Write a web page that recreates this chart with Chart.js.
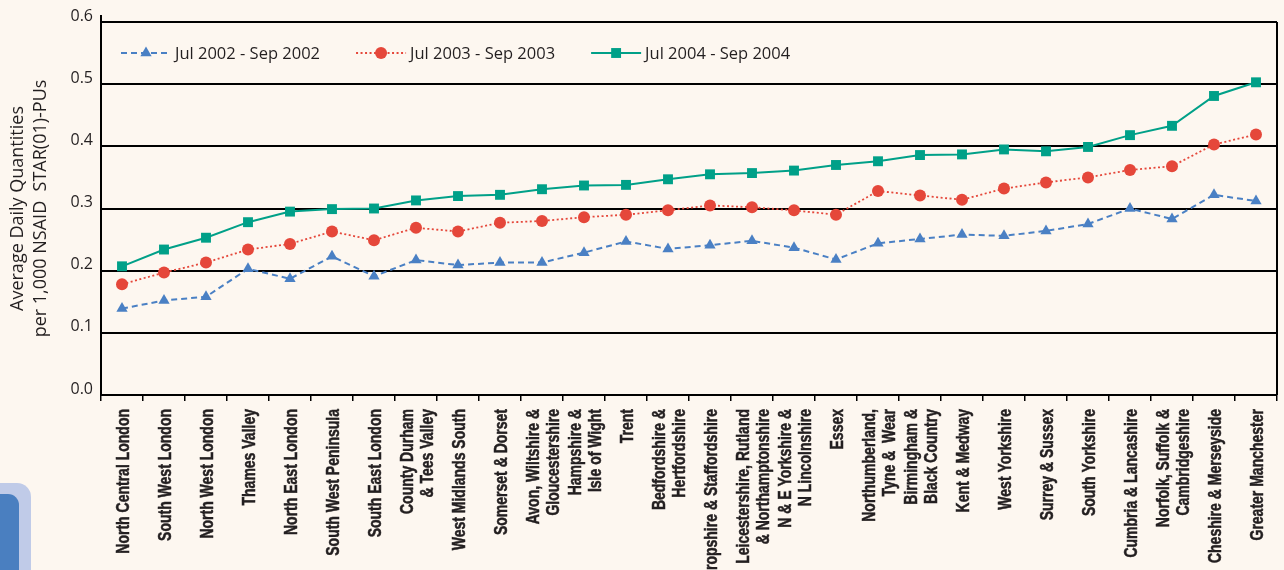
<!DOCTYPE html>
<html>
<head>
<meta charset="utf-8">
<script src="https://cdn.jsdelivr.net/npm/chart.js@4/dist/chart.umd.min.js"></script>
<style>
  body { margin: 0; background: #fdf7f0; }
  #wrap { position: relative; width: 1284px; height: 570px; overflow: hidden; }
  .tab { position: absolute; left: 0; top: 483px; width: 31px; height: 100px; background: #c0cbe8; border-top-right-radius: 14px; }
  .tab-in { position: absolute; left: 0; top: 494px; width: 19px; height: 90px; background: #4a7fc0; border-top-right-radius: 11px; }
</style>
</head>
<body>
<div id="wrap">
  <canvas id="chart" width="1284" height="570"></canvas>
  <div class="tab"></div>
  <div class="tab-in"></div>
</div>
<script>
const regions = [
  "North Central London", "South West London", "North West London", "Thames Valley",
  "North East London", "South West Peninsula", "South East London",
  ["County Durham", "& Tees Valley"], "West Midlands South", "Somerset & Dorset",
  ["Avon, Wiltshire &", "Gloucestershire"], ["Hampshire &", "Isle of Wight"], "Trent",
  ["Bedfordshire &", "Hertfordshire"], "Shropshire & Staffordshire",
  ["Leicestershire, Rutland", "& Northamptonshire"], ["N & E Yorkshire &", "N Lincolnshire"],
  "Essex", ["Northumberland,", "Tyne &  Wear"], ["Birmingham &", "Black Country"],
  "Kent & Medway", "West Yorkshire", "Surrey & Sussex", "South Yorkshire",
  "Cumbria & Lancashire", ["Norfolk, Suffolk &", "Cambridgeshire"],
  "Cheshire & Merseyside", "Greater Manchester"
];

const q2002 = [0.139, 0.152, 0.158, 0.203, 0.187, 0.223, 0.191, 0.217, 0.209, 0.213,
  0.213, 0.229, 0.247, 0.235, 0.241, 0.248, 0.237, 0.218, 0.244, 0.251,
  0.258, 0.256, 0.264, 0.275, 0.300, 0.283, 0.322, 0.312];
const q2003 = [0.178, 0.197, 0.213, 0.234, 0.243, 0.263, 0.249, 0.269, 0.263, 0.277,
  0.280, 0.286, 0.290, 0.297, 0.305, 0.302, 0.297, 0.290, 0.328, 0.321,
  0.314, 0.332, 0.342, 0.350, 0.362, 0.368, 0.403, 0.419];
const q2004 = [0.207, 0.234, 0.253, 0.278, 0.295, 0.299, 0.300, 0.313, 0.320, 0.322,
  0.331, 0.337, 0.338, 0.347, 0.355, 0.357, 0.361, 0.370, 0.376, 0.386,
  0.387, 0.395, 0.392, 0.399, 0.418, 0.433, 0.481, 0.503];

const yTicks = [0, 0.1, 0.2, 0.3, 0.4, 0.5, 0.6];

const textColor = "#231f20";
const bodyFont = '"Open Sans", "Noto Sans", sans-serif';

// legend drawn inside the plot, with line + marker like the original
const lineLegend = {
  id: "lineLegend",
  afterDraw(chart) {
    const ctx = chart.ctx;
    const area = chart.chartArea;
    const y = 53;
    let x = area.left + 20;
    ctx.save();
    // axis stubs: left axis pokes above the top gridline, right border line
    ctx.strokeStyle = "#000";
    ctx.lineWidth = 2;
    ctx.beginPath();
    ctx.moveTo(area.left, area.top - 7);
    ctx.lineTo(area.left, area.top);
    ctx.moveTo(area.right, area.top);
    ctx.lineTo(area.right, area.bottom);
    ctx.stroke();

    ctx.font = "16.5px " + bodyFont;
    ctx.textBaseline = "middle";
    chart.data.datasets.forEach(ds => {
      ctx.strokeStyle = ds.borderColor;
      ctx.lineWidth = ds.borderWidth;
      ctx.setLineDash(ds.borderDash || []);
      ctx.beginPath();
      ctx.moveTo(x, y);
      ctx.lineTo(x + 50, y);
      ctx.stroke();
      ctx.setLineDash([]);
      ctx.fillStyle = ds.pointBackgroundColor;
      Chart.helpers.drawPoint(ctx, {
        pointStyle: ds.pointStyle, radius: ds.pointRadius, borderWidth: 0, rotation: 0
      }, x + 25, y);
      ctx.fillStyle = textColor;
      ctx.fillText(ds.label, x + 54, y + 1);
      x += 54 + ctx.measureText(ds.label).width + 36;
    });
    ctx.restore();
  }
};

// category labels: vertical, condensed bold, multi-line ones centred on the tick
const xLabels = {
  id: "xLabels",
  afterDraw(chart) {
    const ctx = chart.ctx;
    const xs = chart.scales.x;
    ctx.save();
    ctx.font = 'bold 17.5px "Liberation Sans", Arial, sans-serif';
    ctx.fillStyle = textColor;
    ctx.strokeStyle = textColor;
    ctx.lineWidth = 0.5;
    ctx.textAlign = "right";
    ctx.textBaseline = "middle";
    chart.data.labels.forEach((lab, i) => {
      const lines = Array.isArray(lab) ? lab : [lab];
      const px = xs.getPixelForTick(i);
      lines.forEach((t, j) => {
        const cx = px + 2 + (j - (lines.length - 1) / 2) * 20;
        ctx.save();
        ctx.translate(cx, xs.top + 14);
        ctx.rotate(-Math.PI / 2);
        ctx.scale(0.8, 1);
        ctx.fillText(t, 0, 0);
        ctx.strokeText(t, 0, 0);
        ctx.restore();
      });
    });
    ctx.restore();
  }
};

new Chart(document.getElementById("chart"), {
  type: "line",
  data: {
    labels: regions,
    datasets: [
      {
        label: "Jul 2002 - Sep 2002",
        data: q2002,
        borderColor: "#4a80c4",
        borderWidth: 2,
        borderDash: [6, 4],
        pointStyle: "triangle",
        pointRadius: 6.5,
        pointBackgroundColor: "#4a80c4",
        pointBorderWidth: 0,
      },
      {
        label: "Jul 2003 - Sep 2003",
        data: q2003,
        borderColor: "#e5473a",
        borderWidth: 1.8,
        borderDash: [2, 2.5],
        pointStyle: "circle",
        pointRadius: 6,
        pointBackgroundColor: "#e5473a",
        pointBorderWidth: 0,
      },
      {
        label: "Jul 2004 - Sep 2004",
        data: q2004,
        borderColor: "#00a088",
        borderWidth: 2,
        pointStyle: "rect",
        pointRadius: 7,
        pointBackgroundColor: "#00a088",
        pointBorderWidth: 0,
      },
    ],
  },
  options: {
    responsive: false,
    animation: false,
    layout: { padding: { top: 22, right: 1, left: 0, bottom: 0 } },
    plugins: {
      legend: { display: false },
      tooltip: { enabled: false },
    },
    scales: {
      x: {
        offset: true,
        grid: { offset: true, drawOnChartArea: false, drawTicks: true, tickLength: 6, color: "#000", lineWidth: 1.5 },
        border: { color: "#000", width: 2 },
        ticks: { display: false, autoSkip: false },
        afterFit(scale) { scale.height = 175; },
      },
      y: {
        min: 0,
        max: 0.6,
        afterBuildTicks(scale) { scale.ticks = yTicks.map(v => ({ value: v })); },
        grid: { color: "#000", lineWidth: 2, drawTicks: false },
        border: { color: "#000", width: 2 },
        ticks: {
          padding: 8,
          labelOffset: -6,
          color: textColor,
          font: { family: bodyFont, size: 16 },
          callback: v => v.toFixed(1),
        },
        title: {
          display: true,
          text: ["Average Daily Quantities", "per 1,000 NSAID  STAR(01)-PUs"],
          color: textColor,
          font: { family: bodyFont, size: 18, lineHeight: 1.3 },
          padding: { top: 6, bottom: 0 },
        },
        afterFit(scale) { scale.width = 101; },
      },
    },
  },
  plugins: [lineLegend, xLabels],
});
</script>
</body>
</html>
